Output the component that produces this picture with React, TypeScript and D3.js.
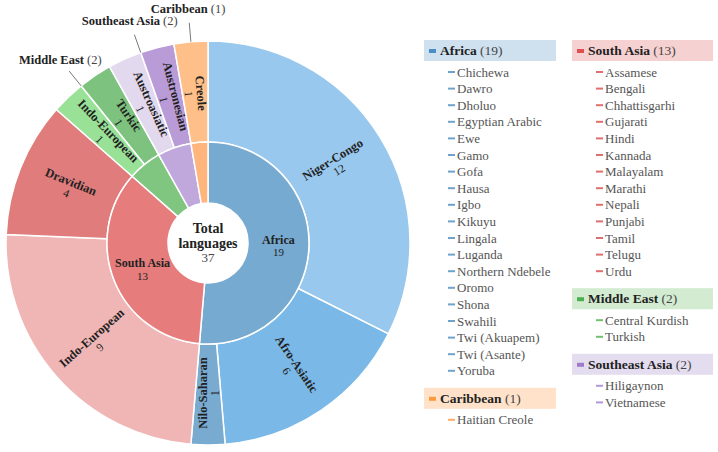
import React from "react";
import * as d3 from "d3";

// regions (inner ring)
const regions = ["Africa", "South Asia", "Middle East", "Southeast Asia", "Caribbean"];
const regionCounts = [19, 13, 2, 2, 1];
const regionFill = ["#77aad0", "#e67c7c", "#80c580", "#c0a7dc", "#ffb57c"];
const regionMarker = ["#4a8cc4", "#df4f4f", "#4caf50", "#a07cc8", "#ff9a3c"];
const regionDash = ["#6fa3cc", "#e06e6e", "#72c072", "#b398d6", "#ffab62"];
const regionBand = ["#cfe1ef", "#f6d1d1", "#d2ebd1", "#e4ddef", "#ffe2c9"];
const legendColumn = [0, 1, 1, 1, 0];

// language families (outer ring)
const familyRegion = [0, 0, 0, 1, 1, 2, 2, 3, 3, 4];
const familyNames = [
  "Niger-Congo", "Afro-Asiatic", "Nilo-Saharan", "Indo-European", "Dravidian",
  "Indo-European", "Turkic", "Austroasiatic", "Austronesian", "Creole"
];
const familyCounts = [12, 6, 1, 9, 4, 1, 1, 1, 1, 1];
const familyFill = [
  "#98c8ee", "#7ab8e7", "#79aad0", "#f0b6b6", "#e07c7c",
  "#98e197", "#7dc27e", "#e3d9ee", "#b99bd8", "#ffbf88"
];

// languages listed in the legend
const africaLangs = [
  "Chichewa", "Dawro", "Dholuo", "Egyptian Arabic", "Ewe", "Gamo", "Gofa", "Hausa",
  "Igbo", "Kikuyu", "Lingala", "Luganda", "Northern Ndebele", "Oromo", "Shona",
  "Swahili", "Twi (Akuapem)", "Twi (Asante)", "Yoruba"
];
const southAsiaLangs = [
  "Assamese", "Bengali", "Chhattisgarhi", "Gujarati", "Hindi", "Kannada", "Malayalam",
  "Marathi", "Nepali", "Punjabi", "Tamil", "Telugu", "Urdu"
];
const middleEastLangs = ["Central Kurdish", "Turkish"];
const southeastAsiaLangs = ["Hiligaynon", "Vietnamese"];
const caribbeanLangs = ["Haitian Creole"];
const regionLanguages = [africaLangs, southAsiaLangs, middleEastLangs, southeastAsiaLangs, caribbeanLangs];

const FONT = "Liberation Serif, DejaVu Serif, serif";

export default function App() {
  const cx = 208, cy = 243;
  const rHole = 40, rMid = 101, rOuter = 202;
  const total = d3.sum(regionCounts);

  const pie = d3.pie<number>().sort(null).value(d => d).startAngle(0).endAngle(2 * Math.PI);
  const innerArcs = pie(regionCounts);
  const outerArcs = pie(familyCounts);

  const innerArc = d3.arc<d3.PieArcDatum<number>>().innerRadius(rHole).outerRadius(rMid);
  const outerArc = d3.arc<d3.PieArcDatum<number>>().innerRadius(rMid).outerRadius(rOuter);
  const innerLabelArc = d3.arc<d3.PieArcDatum<number>>().innerRadius(70.5).outerRadius(70.5);
  const outerLabelArc = d3.arc<d3.PieArcDatum<number>>().innerRadius(150).outerRadius(150);

  const polar = (a: number, r: number) => [r * Math.sin(a), -r * Math.cos(a)];

  // legend layout
  const colX = [424, 572];
  const colW = [132, 141];
  const colY = [40, 40];
  const step = 16.6;
  const legend: any[] = [];
  regions.forEach((reg, i) => {
    const c = legendColumn[i];
    const top = colY[c];
    legend.push({ i, x: colX[c], w: colW[c], top, items: regionLanguages[i] });
    const lastY = top + 32 + (regionLanguages[i].length - 1) * step;
    colY[c] = lastY + 17;
  });

  return (
    <svg width={718} height={452} fontFamily={FONT} style={{ position: "absolute", left: 0, top: 0 }}>
      <g transform={`translate(${cx},${cy})`}>
        {outerArcs.map((a, i) => (
          <path key={"o" + i} d={outerArc(a) as string} fill={familyFill[i]} stroke="#fff" strokeWidth={1.5} />
        ))}
        {innerArcs.map((a, i) => (
          <path key={"i" + i} d={innerArc(a) as string} fill={regionFill[i]} stroke="#fff" strokeWidth={1.5} />
        ))}
        <circle r={rHole} fill="#fff" />

        {/* outer family labels, rotated radially */}
        {outerArcs.map((a, i) => {
          const [x, y] = outerLabelArc.centroid(a);
          const mid = (a.startAngle + a.endAngle) / 2;
          let deg = (mid * 180) / Math.PI - 90;
          if (deg > 89) deg -= 180;
          return (
            <g key={"ol" + i} transform={`translate(${x},${y}) rotate(${deg})`} fill="#222" textAnchor="middle">
              <text y={-1.5} fontSize={12.5} fontWeight="bold">{familyNames[i]}</text>
              <text y={10.5} fontSize={11.5}>{familyCounts[i]}</text>
            </g>
          );
        })}

        {/* inner region labels */}
        {innerArcs.map((a, i) => {
          const mid = (a.startAngle + a.endAngle) / 2;
          if (regionCounts[i] >= 5) {
            const [x, y] = innerLabelArc.centroid(a);
            return (
              <g key={"il" + i} transform={`translate(${x},${y})`} fill="#222" textAnchor="middle">
                <text y={-2} fontSize={12} fontWeight="bold">{regions[i]}</text>
                <text y={10.5} fontSize={11}>{regionCounts[i]}</text>
              </g>
            );
          }
          const [x0, y0] = polar(mid, rOuter);
          const [x1, y1] = polar(mid, 221);
          const [lx, ly] = polar(mid, 235);
          return (
            <g key={"il" + i}>
              <line x1={x0} y1={y0} x2={x1} y2={y1} stroke="#555" strokeWidth={0.8} />
              <text x={lx} y={ly + 4} textAnchor="middle" fontSize={12.5} fill="#222">
                <tspan fontWeight="bold">{regions[i]}</tspan>
                <tspan fill="#444"> ({regionCounts[i]})</tspan>
              </text>
            </g>
          );
        })}

        <g textAnchor="middle" fill="#222">
          <text y={-10} fontSize={14} fontWeight="bold">Total</text>
          <text y={4.5} fontSize={14} fontWeight="bold">languages</text>
          <text y={19} fontSize={13} fill="#444">{total}</text>
        </g>
      </g>

      {/* legend */}
      {legend.map(L => (
        <g key={"lg" + L.i}>
          <rect x={L.x} y={L.top} width={L.w} height={21} fill={regionBand[L.i]} />
          <rect x={L.x + 5} y={L.top + 9} width={7} height={4} fill={regionMarker[L.i]} />
          <text x={L.x + 16} y={L.top + 15} fontSize={13.5} fill="#222">
            <tspan fontWeight="bold">{regions[L.i]}</tspan>
            <tspan fill="#444"> ({regionCounts[L.i]})</tspan>
          </text>
          {L.items.map((lang: string, j: number) => {
            const y = L.top + 32 + j * step;
            return (
              <g key={lang}>
                <rect x={L.x + 24} y={y - 1} width={7} height={2} fill={regionDash[L.i]} />
                <text x={L.x + 33} y={y + 4.5} fontSize={13} fill="#555">{lang}</text>
              </g>
            );
          })}
        </g>
      ))}
    </svg>
  );
}
